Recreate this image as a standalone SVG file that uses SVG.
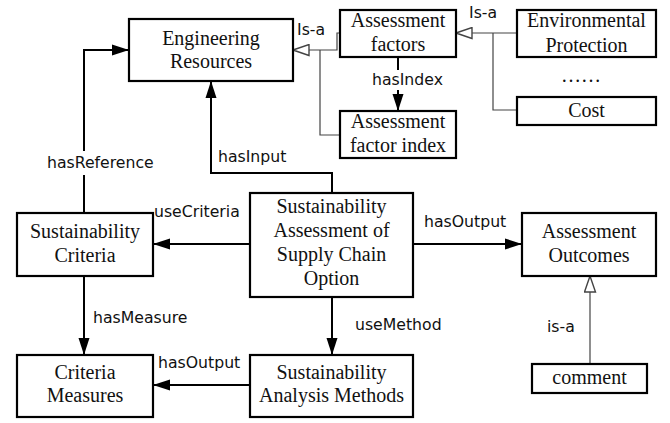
<svg xmlns="http://www.w3.org/2000/svg" width="670" height="423" viewBox="0 0 670 423">
  <style>
    .box { fill: #fff; stroke: #000; stroke-width: 2.2; }
    .name { font-family: "Liberation Serif", "Times New Roman", serif; font-size: 20px; fill: #111; text-anchor: middle; }
    .rel { font-family: "DejaVu Sans", Verdana, sans-serif; font-size: 15.7px; fill: #111; }
    .link { fill: none; stroke: #000; stroke-width: 2; }
    .isa { fill: none; stroke: #444; stroke-width: 1.2; }
  </style>
  <defs>
    <marker id="arrow" markerUnits="userSpaceOnUse" markerWidth="17" markerHeight="12" refX="17" refY="6" orient="auto">
      <path d="M0,0.5 L17,6 L0,11.5 z" fill="#000"/>
    </marker>
    <marker id="hollow" markerUnits="userSpaceOnUse" markerWidth="18" markerHeight="13" refX="17" refY="6.5" orient="auto">
      <path d="M1,1 L17,6.5 L1,12 z" fill="#fff" stroke="#444" stroke-width="1.4"/>
    </marker>
  </defs>

  <rect width="670" height="423" fill="#fff"/>

  <!-- connectors -->
  <g id="connectors">
    <!-- is-a: Assessment factors -> Engineering Resources -->
    <path class="isa" d="M340,33 H337 V50 H293" marker-end="url(#hollow)"/>
    <!-- Assessment factor index joins the same generalisation -->
    <path class="isa" d="M340,135 H320 V50"/>
    <!-- is-a: Environmental Protection / Cost -> Assessment factors -->
    <path class="isa" d="M517,33 H456" marker-end="url(#hollow)"/>
    <path class="isa" d="M517,110 H493 V33"/>
    <!-- is-a: comment -> Assessment Outcomes -->
    <path class="isa" d="M590,364 V276" marker-end="url(#hollow)"/>

    <!-- hasIndex -->
    <path class="link" d="M398,57 V111" marker-end="url(#arrow)"/>
    <!-- hasInput -->
    <path class="link" d="M332,193 V173 H211 V81" marker-end="url(#arrow)"/>
    <!-- hasReference -->
    <path class="link" d="M84,213 V50 H129" marker-end="url(#arrow)"/>
    <!-- useCriteria -->
    <path class="link" d="M250,244 H153" marker-end="url(#arrow)"/>
    <!-- hasOutput to outcomes -->
    <path class="link" d="M413,244 H522" marker-end="url(#arrow)"/>
    <!-- useMethod -->
    <path class="link" d="M332,297 V355" marker-end="url(#arrow)"/>
    <!-- hasMeasure -->
    <path class="link" d="M84,276 V355" marker-end="url(#arrow)"/>
    <!-- hasOutput to measures -->
    <path class="link" d="M250,385 H153" marker-end="url(#arrow)"/>

    <!-- relation labels -->
    <text class="rel" x="297" y="35">Is-a</text>
    <text class="rel" x="469" y="18">Is-a</text>
    <rect x="370" y="70" width="75" height="20" fill="#fff"/>
    <text class="rel" x="372" y="85">hasIndex</text>
    <text class="rel" x="218" y="162">hasInput</text>
    <rect x="46" y="151" width="111" height="24" fill="#fff"/>
    <text class="rel" x="47" y="168">hasReference</text>
    <text class="rel" x="154" y="217">useCriteria</text>
    <text class="rel" x="424" y="227">hasOutput</text>
    <text class="rel" x="93" y="323">hasMeasure</text>
    <text class="rel" x="355" y="330">useMethod</text>
    <text class="rel" x="547" y="332">is-a</text>
    <text class="rel" x="158" y="368">hasOutput</text>
  </g>

  <!-- nodes -->
  <g id="engineering-resources">
    <rect class="box" x="129" y="19" width="164" height="62"/>
    <text class="name" x="211" y="45">Engineering</text>
    <text class="name" x="211" y="68">Resources</text>
  </g>
  <g id="assessment-factors">
    <rect class="box" x="340" y="10" width="116" height="47"/>
    <text class="name" x="398" y="27">Assessment</text>
    <text class="name" x="398" y="51">factors</text>
  </g>
  <g id="environmental-protection">
    <rect class="box" x="517" y="10" width="139" height="47"/>
    <text class="name" x="586.5" y="27">Environmental</text>
    <text class="name" x="586.5" y="52">Protection</text>
  </g>
  <g id="more-factors">
    <text class="name" x="581" y="82">……</text>
  </g>
  <g id="cost">
    <rect class="box" x="517" y="97" width="139" height="28"/>
    <text class="name" x="586.5" y="117">Cost</text>
  </g>
  <g id="assessment-factor-index">
    <rect class="box" x="340" y="111" width="116" height="47"/>
    <text class="name" x="398" y="128">Assessment</text>
    <text class="name" x="398" y="152">factor index</text>
  </g>
  <g id="sustainability-assessment">
    <rect class="box" x="250" y="193" width="163" height="104"/>
    <text class="name" x="331.5" y="213">Sustainability</text>
    <text class="name" x="331.5" y="237">Assessment of</text>
    <text class="name" x="331.5" y="261">Supply Chain</text>
    <text class="name" x="331.5" y="285">Option</text>
  </g>
  <g id="sustainability-criteria">
    <rect class="box" x="17" y="213" width="136" height="63"/>
    <text class="name" x="85" y="238">Sustainability</text>
    <text class="name" x="85" y="262">Criteria</text>
  </g>
  <g id="assessment-outcomes">
    <rect class="box" x="522" y="213" width="134" height="63"/>
    <text class="name" x="589" y="238">Assessment</text>
    <text class="name" x="589" y="262">Outcomes</text>
  </g>
  <g id="criteria-measures">
    <rect class="box" x="17" y="355" width="136" height="62"/>
    <text class="name" x="85" y="379">Criteria</text>
    <text class="name" x="85" y="402">Measures</text>
  </g>
  <g id="sustainability-analysis-methods">
    <rect class="box" x="250" y="355" width="163" height="62"/>
    <text class="name" x="331.5" y="379">Sustainability</text>
    <text class="name" x="331.5" y="402">Analysis Methods</text>
  </g>
  <g id="comment">
    <rect class="box" x="532" y="364" width="115" height="29"/>
    <text class="name" x="589.5" y="384">comment</text>
  </g>
</svg>
